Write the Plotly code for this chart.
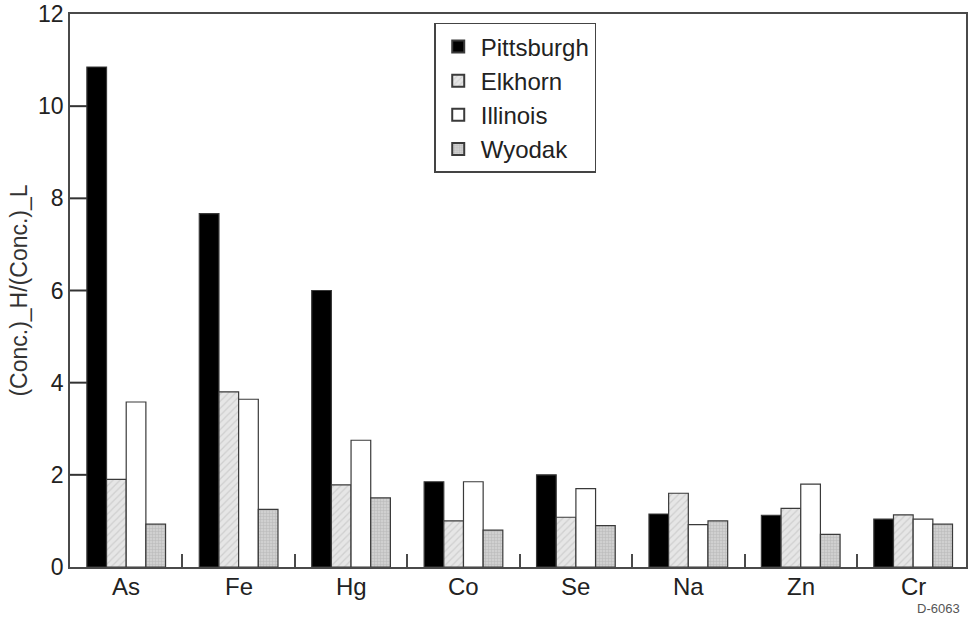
import plotly.graph_objects as go

# Enrichment ratio of trace elements, by coal
elements = ["As", "Fe", "Hg", "Co", "Se", "Na", "Zn", "Cr"]
pittsburgh = [10.85, 7.67, 6.0, 1.85, 2.0, 1.15, 1.12, 1.04]
elkhorn = [1.9, 3.8, 1.78, 1.0, 1.08, 1.6, 1.27, 1.13]
illinois = [3.58, 3.64, 2.75, 1.85, 1.7, 0.92, 1.8, 1.04]
wyodak = [0.93, 1.25, 1.5, 0.8, 0.9, 1.0, 0.71, 0.93]

y_ticks = [0, 2, 4, 6, 8, 10, 12]

edge = dict(color="#3a3a3a", width=1.2)
font_family = "Liberation Sans, Arial, sans-serif"
axis_color = "#4a4a4a"

series = [
    ("Pittsburgh", pittsburgh, dict(color="black", line=edge)),
    ("Elkhorn", elkhorn, dict(color="#e6e6e6", line=edge,
                               pattern=dict(shape="/", fgcolor="#b8b8b8",
                                            bgcolor="#e6e6e6", size=5, solidity=0.25))),
    ("Illinois", illinois, dict(color="white", line=edge)),
    ("Wyodak", wyodak, dict(color="#cfcfcf", line=edge,
                             pattern=dict(shape="+", fgcolor="#a0a0a0",
                                          bgcolor="#d0d0d0", size=3, solidity=0.3))),
]

fig = go.Figure()
for i, (name, vals, marker) in enumerate(series):
    fig.add_trace(go.Bar(x=list(range(len(elements))), y=vals, name=name,
                         marker=marker, legendgroup=f"g{i}"))

axis_line = dict(showline=True, linecolor=axis_color, linewidth=1.5, mirror=True,
                 tickcolor=axis_color, tickwidth=2,
                 showgrid=False, zeroline=False)

plot_w = 969 - 70 - 1

fig.update_layout(
    width=969, height=623,
    margin=dict(l=70, r=1, t=13, b=56),
    paper_bgcolor="white", plot_bgcolor="white",
    barmode="group", bargap=0.30, bargroupgap=0,
    font=dict(family=font_family, color="#222222", size=23),
    showlegend=True,
    legend=dict(x=0.4065, y=0.984, xanchor="left", yanchor="top",
                bordercolor="#444444", borderwidth=1.5, bgcolor="white",
                font=dict(size=24, color="#222222"), tracegroupgap=0,
                itemwidth=35, itemsizing="constant"),
    xaxis=dict(range=[-0.5, 7.47], ticks="inside",
               tickmode="array", tickvals=[i + 0.5 for i in range(len(elements) - 1)],
               ticktext=[""] * (len(elements) - 1), ticklen=13, **axis_line),
    yaxis=dict(range=[0, 12], ticks="", tickmode="array", tickvals=y_ticks,
               ticktext=[str(v) for v in y_ticks],
               tickfont=dict(size=23, color="#222222"),
               title=dict(text="(Conc.)_H/(Conc.)_L", font=dict(size=23, color="#333333"),
                          standoff=4),
               **axis_line),
)

# Inward tick marks on the value axis
for v in y_ticks[1:-1]:
    fig.add_shape(type="line", xref="paper", yref="y", x0=0, x1=17 / plot_w,
                  y0=v, y1=v, line=dict(color="#333333", width=2), layer="above")

# Category names centred under each group
for i, el in enumerate(elements):
    fig.add_annotation(x=i, y=0, xref="x", yref="y", text=el, showarrow=False,
                       yanchor="top", yshift=-4, font=dict(size=24, color="#222222"))

fig.add_annotation(x=1, y=0, xref="paper", yref="paper", xanchor="right", yanchor="top",
                   yshift=-32, xshift=-4, text="D-6063", showarrow=False,
                   font=dict(size=13, color="#555555"))

fig.write_html("out.html")
